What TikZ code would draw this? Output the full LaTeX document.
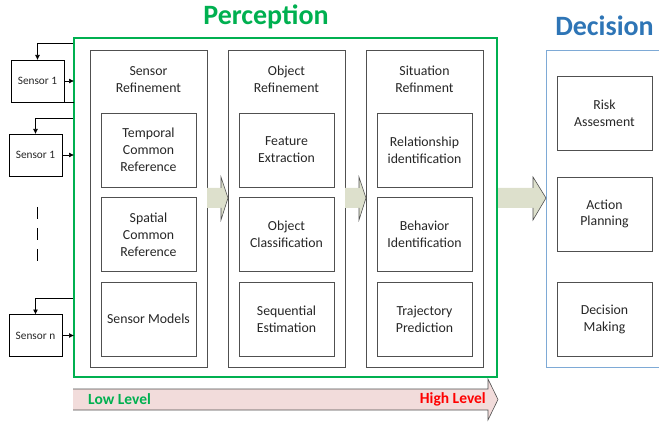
\documentclass[tikz,border=0pt]{standalone}
\usepackage{fontspec}
\setmainfont{Carlito}
\usetikzlibrary{arrows.meta}
\definecolor{pgreen}{RGB}{0,176,80}
\definecolor{dblue}{RGB}{46,117,182}
\definecolor{lblue}{RGB}{126,170,214}
\definecolor{boxgray}{RGB}{80,80,80}
\definecolor{txt}{RGB}{38,38,38}
\definecolor{olivef}{RGB}{221,224,204}
\definecolor{pinkf}{RGB}{242,220,219}
\definecolor{hired}{RGB}{255,0,0}
\begin{document}
\begin{tikzpicture}[x=1pt,y=-1pt,
  bodyfont/.style={font=\fontsize{13.8}{16.8}\selectfont},
  inbox/.style={draw=boxgray, line width=0.8pt, minimum width=95pt, minimum height=74pt, inner sep=0pt, outer sep=0pt, align=center, text=txt, bodyfont},
  colbox/.style={draw=boxgray, line width=0.8pt, minimum width=117pt, minimum height=317pt, inner sep=0pt, outer sep=0pt},
  coltitle/.style={align=center, text=txt, bodyfont, inner sep=0pt},
  sensbox/.style={draw=black, line width=0.7pt, minimum width=53pt, minimum height=42pt, inner sep=0pt, outer sep=0pt, text=txt, font=\fontsize{11.3}{13}\selectfont},
  conn/.style={draw=black, line width=0.7pt, -{Latex[length=5pt,width=5pt]}},
  plain/.style={draw=black, line width=0.7pt},
  bigtitle/.style={font=\bfseries\fontsize{28}{30}\selectfont, anchor=base, inner sep=0pt},
  levtext/.style={font=\bfseries\fontsize{15.5}{17}\selectfont, inner sep=0pt},
  headline/.style={draw=boxgray, line width=0.6pt}
]
\useasboundingbox (0,0) rectangle (659,422);

% titles
\node[bigtitle, text=pgreen] (ptitle) at (266,25) {Perception};
\node[bigtitle, text=dblue] (dtitle) at (604.5,36) {Decision};

% level arrow
\coordinate (la0) at (73,389);
\fill[pinkf] (la0) -- (488,389) -- (488,379) -- (498,399.5) -- (488,420) -- (488,410) -- (73,410) -- cycle;
\draw[headline] (la0) -- (488,389) -- (488,379) -- (498,399.5) -- (488,420) -- (488,410) -- (73,410);
\node[levtext, text=pgreen, anchor=west] (low) at (88,399.5) {Low Level};
\node[levtext, text=hired, anchor=east] (high) at (486,399.5) {High Level};

% perception container
\node[draw=pgreen, line width=2pt, minimum width=423pt, minimum height=339pt, inner sep=0pt, outer sep=0pt] (g) at (285.5,207.5) {};

% decision container
\draw[lblue, line width=0.9pt] (690,50) -- (546,50) -- (546,367) -- (690,367);

% columns
\node[colbox] (c1) at (148.5,208.5) {};
\node[colbox] (c2) at (286.5,208.5) {};
\node[colbox] (c3) at (424.5,208.5) {};
\node[coltitle] (t1) at (148.5,79.5) {Sensor\\Refinement};
\node[coltitle] (t2) at (286.5,79.5) {Object\\Refinement};
\node[coltitle] (t3) at (424.5,79.5) {Situation\\Refinment};

% inner boxes
\node[inbox] (a1) at (148.5,150) {Temporal\\Common\\Reference};
\node[inbox] (a2) at (148.5,234.5) {Spatial\\Common\\Reference};
\node[inbox] (a3) at (148.5,319) {Sensor Models};
\node[inbox] (b1) at (286.5,150) {Feature\\Extraction};
\node[inbox] (b2) at (286.5,234.5) {Object\\Classification};
\node[inbox] (b3) at (286.5,319) {Sequential\\Estimation};
\node[inbox] (e1) at (424.5,150) {Relationship\\identification};
\node[inbox] (e2) at (424.5,234.5) {Behavior\\Identification};
\node[inbox] (e3) at (424.5,319) {Trajectory\\Prediction};
\node[inbox] (d1) at (604.5,113) {Risk\\Assesment};
\node[inbox] (d2) at (604.5,214) {Action\\Planning};
\node[inbox] (d3) at (604.5,319.5) {Decision\\Making};

% block arrows
\fill[olivef] (207,188) -- (221,188) -- (221,177) -- (228,198) -- (221,220) -- (221,208) -- (207,208) -- cycle;
\draw[headline] (221,188) -- (221,177) -- (228,198) -- (221,220) -- (221,208);
\fill[olivef] (345,188) -- (359,188) -- (359,177) -- (366,198) -- (359,220) -- (359,208) -- (345,208) -- cycle;
\draw[headline] (359,188) -- (359,177) -- (366,198) -- (359,220) -- (359,208);
\fill[olivef] (498,188) -- (533,188) -- (533,177) -- (546,198) -- (533,220) -- (533,208) -- (498,208) -- cycle;
\draw[headline] (533,188) -- (533,177) -- (546,198) -- (533,220) -- (533,208);

% sensors
\node[sensbox] (s1) at (37.5,81) {Sensor 1};
\node[sensbox] (s2) at (35.5,155) {Sensor 1};
\node[sensbox] (sn) at (35.5,335.5) {Sensor n};

\coordinate (f1) at (73,43);
\coordinate (f2) at (73,118);
\coordinate (fn) at (73,298);
\draw[conn] (f1) -| (s1.north);
\draw[conn] (f2) -| (s2.north);
\draw[conn] (fn) -| (sn.north);
\draw[conn] (s1.east) -- (s1.east -| g.west);
\draw[conn] (s2.east) -- (s2.east -| g.west);
\draw[conn] (sn.east) -- (sn.east -| g.west);
\draw[plain] (s1.south east) -- (s1.south east -| g.west);

% dashed continuation
\coordinate (dd1) at (37,207);
\coordinate (dd2) at (37,263);
\draw[black, line width=0.7pt, dash pattern=on 12pt off 9pt] (dd1) -- (dd2);
\end{tikzpicture}
\end{document}
